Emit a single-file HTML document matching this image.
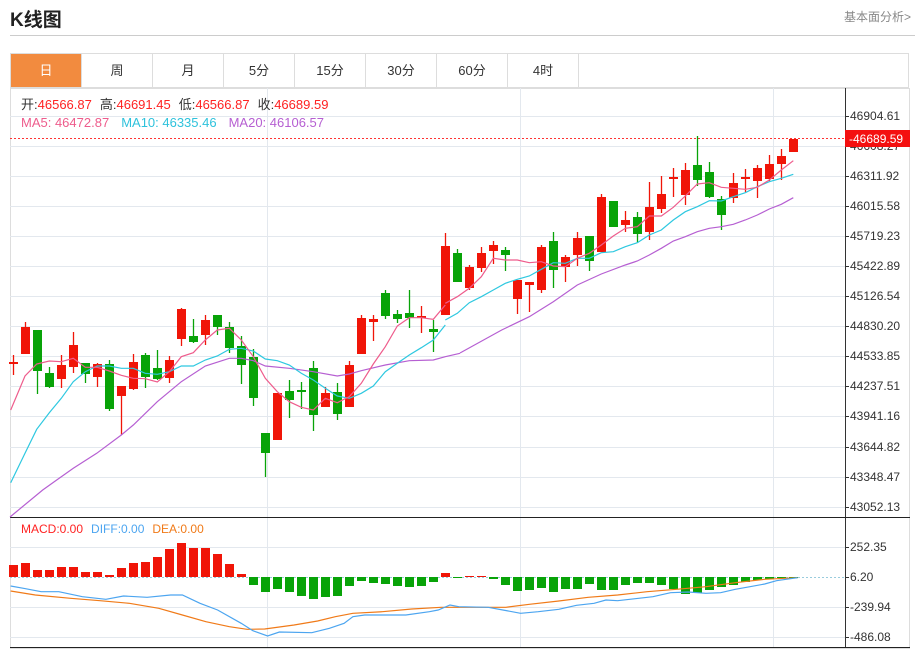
<!DOCTYPE html><html><head><meta charset="utf-8"><style>
body{margin:0;width:917px;height:650px;background:#fff;font-family:"Liberation Sans","Noto Sans CJK SC",sans-serif;overflow:hidden;position:relative}
.t{position:absolute;left:10px;top:5px;font-size:19px;font-weight:bold;color:#222}
.r{position:absolute;right:6px;top:8px;font-size:12px;color:#888}
.hl{position:absolute;left:10px;top:35px;width:905px;height:1px;background:#ccc}
.tabs{position:absolute;left:10px;top:53px;width:899px;height:35px;border:1px solid #ddd;box-sizing:border-box;display:flex}
.tabs div{width:70px;border-right:1px solid #ddd;text-align:center;line-height:33px;font-size:13px;color:#333}
.tabs div.a{background:#f28b3f;color:#fff}
</style></head><body>
<div class="t">K线图</div><div class="r">基本面分析&gt;</div><div class="hl"></div>
<div class="tabs"><div class="a">日</div><div>周</div><div>月</div><div>5分</div><div>15分</div><div>30分</div><div>60分</div><div>4时</div></div>
<svg id="s" width="917" height="650" style="position:absolute;left:0;top:0" font-family="Liberation Sans, Noto Sans CJK SC, sans-serif">
<rect x="10.5" y="88.5" width="899" height="560" fill="none" stroke="#ddd"/>
<g stroke="#e3e8ee" stroke-width="1">
<line x1="10" x2="845" y1="116.5" y2="116.5"/><line x1="10" x2="845" y1="146.5" y2="146.5"/><line x1="10" x2="845" y1="176.5" y2="176.5"/><line x1="10" x2="845" y1="206.5" y2="206.5"/><line x1="10" x2="845" y1="236.5" y2="236.5"/><line x1="10" x2="845" y1="266.5" y2="266.5"/><line x1="10" x2="845" y1="296.5" y2="296.5"/><line x1="10" x2="845" y1="326.5" y2="326.5"/><line x1="10" x2="845" y1="356.5" y2="356.5"/><line x1="10" x2="845" y1="386.5" y2="386.5"/><line x1="10" x2="845" y1="416.5" y2="416.5"/><line x1="10" x2="845" y1="447.5" y2="447.5"/><line x1="10" x2="845" y1="477.5" y2="477.5"/><line x1="10" x2="845" y1="507.5" y2="507.5"/>
<line x1="10" x2="845" y1="547.5" y2="547.5"/><line x1="10" x2="845" y1="607.5" y2="607.5"/><line x1="10" x2="845" y1="637.5" y2="637.5"/>
<line x1="267.5" x2="267.5" y1="88" y2="648"/><line x1="520.5" x2="520.5" y1="88" y2="648"/><line x1="773.5" x2="773.5" y1="88" y2="648"/>
</g>
<line x1="845.5" x2="845.5" y1="88" y2="648" stroke="#333"/>
<line x1="10" x2="910" y1="517.5" y2="517.5" stroke="#222"/>
<line x1="10" x2="910" y1="647.5" y2="647.5" stroke="#222"/>
<g font-size="12" fill="#333" id="ax"></g>
<line x1="10" x2="845" y1="138.5" y2="138.5" stroke="#f33" stroke-dasharray="2,2"/>
<line x1="10" x2="845" y1="577.5" y2="577.5" stroke="#9cd" stroke-dasharray="2,2"/>
<g id="c"></g>
<text x="21" y="109" font-size="13" fill="#333">开:<tspan fill="#f22">46566.87</tspan><tspan dx="8">高:</tspan><tspan fill="#f22">46691.45</tspan><tspan dx="8">低:</tspan><tspan fill="#f22">46566.87</tspan><tspan dx="8">收:</tspan><tspan fill="#f22">46689.59</tspan></text>
<text x="21" y="127" font-size="13" fill="#ee5c8c">MA5: 46472.87<tspan fill="#2ec2dc" dx="12">MA10: 46335.46</tspan><tspan fill="#b65fd2" dx="12">MA20: 46106.57</tspan></text>
<text x="21" y="533" font-size="12" fill="#f22">MACD:0.00<tspan fill="#4ca5f0" dx="8">DIFF:0.00</tspan><tspan fill="#f07a18" dx="8">DEA:0.00</tspan></text>
<rect x="845" y="130" width="65" height="17" fill="#f41010"/>
<text x="849" y="143" font-size="12" fill="#fff">-46689.59</text>
</svg>
<script>
var s='',ax=document.getElementById('ax');
var L=[[116,'46904.61'],[146,'46608.27'],[176,'46311.92'],[206,'46015.58'],[236,'45719.23'],[266,'45422.89'],[296,'45126.54'],[326,'44830.20'],[356,'44533.85'],[386,'44237.51'],[416,'43941.16'],[447,'43644.82'],[477,'43348.47'],[507,'43052.13'],[547,'252.35'],[577,'6.20'],[607,'-239.94'],[637,'-486.08']];
L.forEach(function(l){s+='<line x1="845" x2="849" y1="'+(l[0]+.5)+'" y2="'+(l[0]+.5)+'" stroke="#333"/><text x="850" y="'+(l[0]+4)+'">'+l[1]+'</text>';});
ax.innerHTML=s;
var C=[[1,362,364,355,375],[1,327,354,322,354],[0,330,371,330,394],[0,373,387,367,388],[1,365,379,355,388],[1,345,367,332,373],[0,363,374,363,383],[1,364,377,363,387],[0,364,409,360,411],[1,386,396,386,435],[1,362,389,354,390],[0,355,377,353,388],[0,368,379,350,380],[1,360,378,356,383],[1,309,339,308,346],[0,336,342,319,343],[1,320,335,315,345],[0,315,327,315,335],[0,327,348,322,353],[0,346,365,336,384],[0,357,398,349,406],[0,433,453,433,477],[1,393,440,393,440],[0,391,400,380,418],[0,390,392,382,409],[0,368,415,361,431],[1,393,407,387,407],[0,392,414,383,420],[1,365,407,361,407],[1,318,354,315,354],[1,319,322,315,341],[0,293,316,290,319],[0,314,319,310,323],[0,313,318,290,328],[1,316,318,306,333],[0,329,332,320,352],[1,246,315,233,315],[0,253,282,249,282],[1,267,288,265,290],[1,253,268,247,272],[1,245,251,241,264],[0,250,255,247,271],[1,280,299,280,314],[1,282,285,282,312],[1,247,290,245,293],[0,241,270,232,288],[1,257,267,255,282],[1,238,255,232,266],[0,236,261,236,271],[1,197,252,194,252],[0,201,227,201,227],[1,220,225,211,232],[0,217,234,212,243],[1,207,232,182,240],[1,194,209,176,213],[1,177,179,168,197],[1,170,195,163,205],[0,165,180,136,186],[0,172,197,162,198],[0,199,215,196,230],[1,183,198,173,203],[1,177,179,169,192],[1,168,181,165,198],[1,164,179,155,181],[1,156,164,149,180],[1,139,152,139,152]];
var H=[565,563,570,570,567,567,572,572,575,568,563,562,557,549,543,548,548,554,564,574,585,592,589,592,596,599,597,596,586,581,583,584,586,587,586,582,573,577,576,576,579,585,591,590,588,592,589,589,584,590,590,585,583,583,585,589,594,593,590,587,585,582,580,579,578,578];
var o='';
C.forEach(function(c,i){var x=13.5+12*i,col=c[0]?'#f01508':'#08a308';
o+='<line x1="'+x+'" x2="'+x+'" y1="'+c[3]+'" y2="'+c[4]+'" stroke="'+col+'" stroke-width="1.3"/>';
o+='<rect x="'+(x-4.5)+'" y="'+c[1]+'" width="9" height="'+Math.max(2,c[2]-c[1])+'" fill="'+col+'"/>';});
H.forEach(function(h,i){var x=13.5+12*i,col=h<577?'#f01508':'#08a308';
var y=Math.min(h,577),hh=Math.max(1,Math.abs(h-577));o+='<rect x="'+(x-4.5)+'" y="'+y+'" width="9" height="'+hh+'" fill="'+col+'"/>';});
function pl(pts,f,col){var p=[];for(var i=0;i<pts.length;i+=2)p.push(f(pts[i],pts[i+1]));return '<polyline fill="none" stroke="'+col+'" stroke-width="1.2" points="'+p.join(' ')+'"/>';}
var z2=function(x,y){return (x/3).toFixed(1)+','+(y/3+290).toFixed(1)},z3=function(x,y){return (x/3+430).toFixed(1)+','+(y/3+130).toFixed(1)},z4=function(x,y){return (x/1.7).toFixed(1)+','+(y/3+510).toFixed(1)};
var m5a=[32,360,75,258,110,222,148,213,184,215,220,205,256,232,292,232,328,243,364,256,400,265,436,266,472,276,508,245,544,200,580,188,616,150,652,120,688,115,724,150,760,200,796,265,832,305,868,335,904,352,940,360,976,325,1012,338,1048,320,1084,280,1120,222,1156,170,1192,108,1228,83,1264,83,1300,88,1336,45];
var m5b=[46,520,82,500,118,475,154,440,190,385,226,390,262,390,298,398,334,395,370,408,406,410,442,385,478,370,514,345,550,318,586,295,622,290,658,258,694,258,730,232,766,198,802,162,838,158,874,172,910,175,946,178,982,172,1018,150,1054,120,1090,92];
var m10a=[32,578,75,490,110,418,148,368,184,325,220,275,256,245,292,228,328,228,364,235,400,235,436,250,472,253,508,245,544,228,580,228,616,210,652,198,688,178,724,175,760,183,796,207,832,212,868,225,904,250,940,270,976,295,1012,318,1048,325,1084,310,1120,288,1156,245,1192,220,1228,195,1264,173,1300,150,1336,105];
var m10b=[46,570,82,550,118,518,154,500,190,480,226,460,262,448,298,438,334,418,370,398,406,400,442,385,478,385,514,368,550,365,586,350,622,338,658,315,694,300,730,270,766,245,802,230,838,212,874,213,910,200,946,188,982,170,1018,155,1054,145,1090,133];
var m20a=[30,681,128,600,170,570,220,535,290,490,364,435,400,405,472,335,544,275,616,228,688,205,724,205,760,212,796,228,868,235,940,245,1012,258,1048,252,1084,242,1156,225,1228,212,1300,210,1336,200,1380,190];
var m20b=[90,669,215,600,298,560,370,515,442,465,514,432,586,405,622,393,658,375,694,355,730,333,766,320,802,305,838,295,874,290,910,283,946,270,982,255,1018,237,1054,223,1090,203];
o+=pl(m20a,z2,'#b65fd2')+pl(m20b,z3,'#b65fd2')+pl(m10a,z2,'#2ec8e0')+pl(m10b,z3,'#2ec8e0')+pl(m5a,z2,'#ee5c8c')+pl(m5b,z3,'#ee5c8c');
var dif=[18,228,40,235,70,245,100,245,140,260,180,268,210,258,250,262,290,255,310,255,340,280,370,300,410,340,430,362,455,378,475,366,530,368,560,355,585,340,600,320,620,315,690,315,730,305,745,300,765,285,780,290,830,292,855,300,885,310,915,305,950,298,980,286,1010,280,1030,270,1050,272,1080,266,1110,260,1140,248,1170,246,1200,250,1225,248,1250,238,1275,230,1300,222,1320,212,1356,203];
var dea=[18,243,60,255,120,265,170,272,220,280,270,295,310,315,350,335,390,350,420,358,450,357,500,345,540,333,570,320,600,310,650,305,700,297,750,292,800,292,860,292,900,283,950,273,1000,262,1050,255,1100,245,1150,238,1200,230,1250,218,1300,208,1356,203];
o+=pl(dea,z4,'#f07a18')+pl(dif,z4,'#4ca5f0');
document.getElementById('c').innerHTML=o;
</script>
</body></html>
